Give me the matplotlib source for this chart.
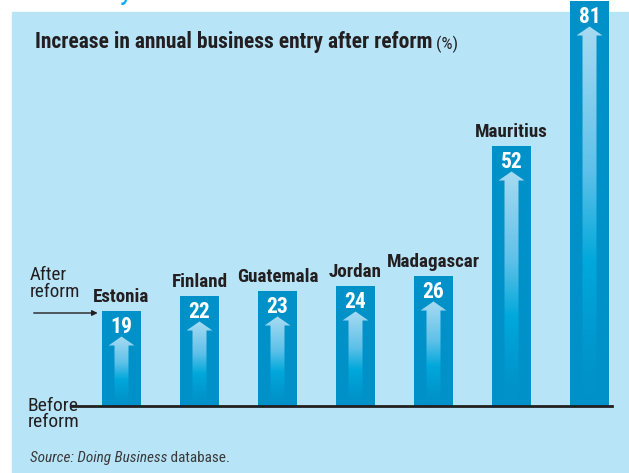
import numpy as np
import matplotlib.pyplot as plt
from matplotlib.colors import LinearSegmentedColormap
from matplotlib.patches import Rectangle, Polygon

# data
countries = ['Estonia', 'Finland', 'Guatemala', 'Jordan', 'Madagascar', 'Mauritius', '']
increase = [19, 22, 23, 24, 26, 52, 81]

W, H = 629, 473
bar_col = '#0091c9'
panel_col = '#b8e4f8'
ink = '#231f20'
plt.rcParams['font.family'] = ['Roboto Condensed', 'Liberation Sans Narrow',
                               'DejaVu Sans Condensed', 'Roboto', 'DejaVu Sans']

fig = plt.figure(figsize=(W / 100, H / 100), dpi=100)
fig.patch.set_facecolor('white')
fig.add_artist(Rectangle((12 / W, 0), 1 - 12 / W, (H - 12) / H,
                         transform=fig.transFigure, color=panel_col, zorder=-5))

ax = fig.add_axes([0, 0, 1, 1])
ax.axis('off')

x = np.arange(len(increase))
ax.bar(x, increase, width=0.5, color=bar_col, zorder=2)

# gradient arrows inside bars
grad = LinearSegmentedColormap.from_list('arr', [
    (0.0, bar_col), (0.12, '#0095cb'), (0.38, '#00a8db'),
    (0.62, '#5ec1e9'), (1.0, '#a8dbf2')])
g = np.linspace(0, 1, 256).reshape(-1, 1)
hs, hh = 7 / 78, 13 / 78
for xi, v in zip(x, increase):
    top, base = v - 5.1, v - 6.9
    poly = Polygon([(xi - hs, 0.6), (xi + hs, 0.6), (xi + hs, base), (xi + hh, base),
                    (xi, top), (xi - hh, base), (xi - hs, base)],
                   closed=True, transform=ax.transData)
    im = ax.imshow(g, cmap=grad, origin='lower', aspect='auto',
                   extent=[xi - hh, xi + hh, 0, top], zorder=3)
    im.set_clip_path(poly)
    ax.annotate(str(v), xy=(xi, v), xytext=(0, -11.2), textcoords='offset points',
                ha='center', va='center', color='white', fontsize=15.5,
                fontweight='bold', zorder=4)
    if countries[xi]:
        ax.annotate(countries[xi], xy=(xi, v), xytext=(0, 6.5), textcoords='offset points',
                    ha='center', va='baseline', color=ink, fontsize=13.7,
                    fontweight='bold', zorder=4)

ax.axhline(0, xmin=72 / W, xmax=612 / W, color=ink, lw=2, zorder=5)

# pointer to the top of the first bar
ax.annotate('', xy=(x[0] - 0.27, increase[0] - 0.4), xytext=(-50, 0),
            textcoords='offset points',
            arrowprops=dict(arrowstyle='-|>', color=ink, lw=1, mutation_scale=8))

fig.text(30 / W, 1 - 301 / H, 'After\nreform', fontsize=13.7, color=ink,
         va='bottom', linespacing=0.92)
fig.text(28 / W, 1 - 431 / H, 'Before\nreform', fontsize=14, color=ink,
         va='bottom', linespacing=0.88)

t = fig.text(35 / W, 1 - 42 / H, 'Increase in annual business entry after reform',
             fontsize=15.5, fontweight='bold', color=ink, va='center')
ax.annotate(' (%)', xy=(1, 0), xycoords=t, va='bottom', fontsize=12.5, color=ink)

s = fig.text(30 / W, 1 - 458 / H, 'Source: Doing Business', fontsize=11,
             style='italic', color='#3a3a3a', va='center')
ax.annotate(' database.', xy=(1, 0), xycoords=s, va='bottom', fontsize=11,
            color='#3a3a3a')

# cut-off heading fragment at top
fig.text(119 / W, 1 + 1 / H, 'y', fontsize=22, color='#00aeef', va='baseline')

ax.set_xlim(-121.5 / 78, (W - 121.5) / 78)
ax.set_ylim(-13.4, 81.2)

fig.savefig('out.png', dpi=100)
